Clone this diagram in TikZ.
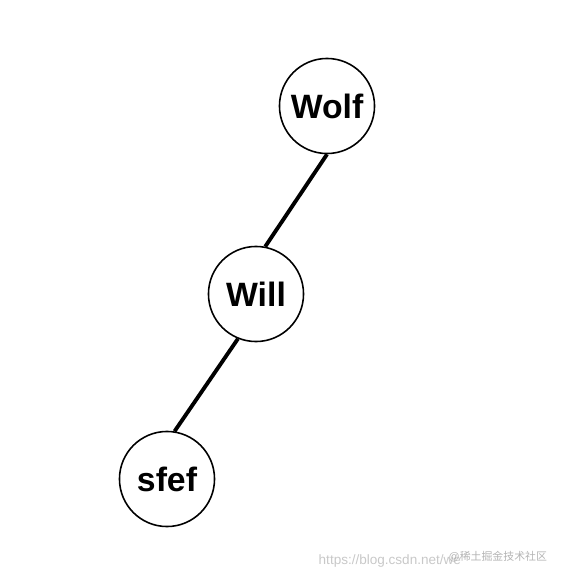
\documentclass[tikz,border=0pt]{standalone}
\usepackage{fontspec}
\setmainfont{Liberation Sans}
\newfontfamily\cjkfont{Noto Sans CJK SC}
\usepackage{tikz}
\definecolor{mark}{HTML}{C8C8C8}
\definecolor{markcjk}{HTML}{B4B4B4}
\tikzset{
  every picture/.style={
    line join=round,
    line cap=round,
  },
  person/.style={circle, draw, line width=0.45pt, minimum size=0.95cm,
    inner sep=0pt, font=\fontsize{9.6}{10}\selectfont\bfseries},
  link/.style={line width=1.1pt, line cap=butt},
}

\begin{document}
\begin{tikzpicture}[x=0.01cm,y=-0.01cm]
\useasboundingbox (0,0) rectangle (570,582);
\node[person] (wolf) at (327,106) {Wolf};
\node[person] (will) at (256,294) {Will};
\node[person] (sfef) at (167,479) {sfef};
\draw[link] (wolf.south) -- (will.79);
\draw[link] (will.248) -- (sfef.81);
% watermark
\node[anchor=west, inner sep=0pt, text=mark, font=\fontsize{3.85}{5}\selectfont]
  (url) at (318,561) {https://blog.csdn.net/we};
\node[anchor=west, inner sep=0pt, text=markcjk, font=\fontsize{3.1}{4}\selectfont]
  (site) at (448,557) {@\cjkfont 稀土掘金技术社区};
\end{tikzpicture}
\end{document}
